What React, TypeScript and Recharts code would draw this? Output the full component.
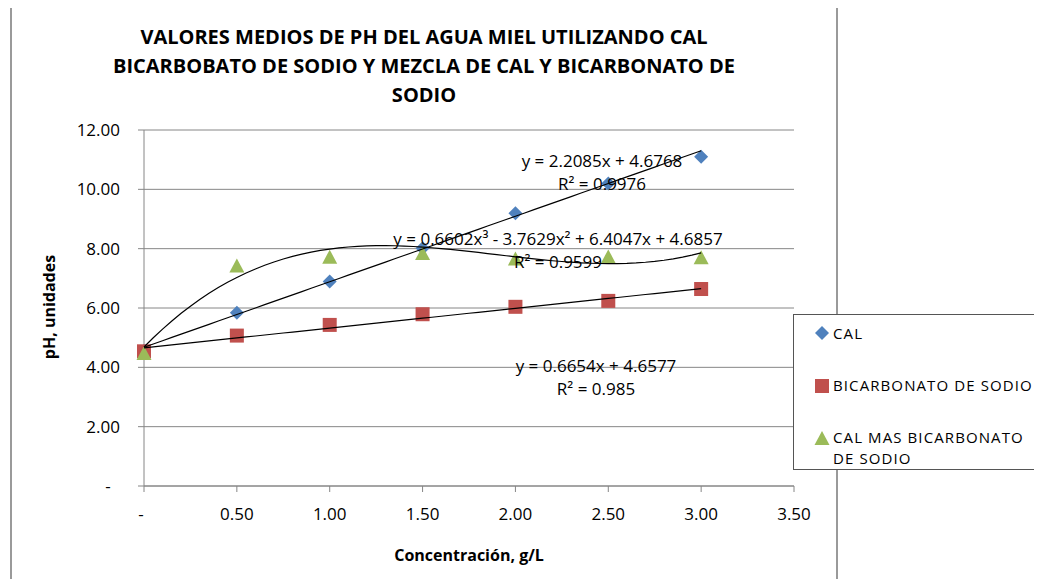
import { ScatterChart, Scatter, XAxis, YAxis, CartesianGrid } from "recharts"

// concentration (g/L) and mean pH per treatment
const concentracion = [0, 0.5, 1, 1.5, 2, 2.5, 3]
const phCal = [4.55, 5.84, 6.89, 8.01, 9.19, 10.2, 11.1]
const phBicarbonato = [4.54, 5.07, 5.43, 5.79, 6.04, 6.24, 6.64]
const phCalBicarbonato = [4.48, 7.43, 7.73, 7.85, 7.67, 7.74, 7.71]

const xTicks = [0, 0.5, 1, 1.5, 2, 2.5, 3, 3.5]
const yTicks = [0, 2, 4, 6, 8, 10, 12]

// trendline coefficients, highest power first
const coefCal = [2.2085, 4.6768]
const coefBicarbonato = [0.6654, 4.6577]
const coefCalBicarbonato = [0.6602, -3.7629, 6.4047, 4.6857]

const AZUL = "#4F81BD"
const ROJO = "#C0504D"
const VERDE = "#9BBB59"
const GRIS = "#868686"
const FONT = "'Open Sans', 'DejaVu Sans', sans-serif"

const toPoints = (ys: number[]) => concentracion.map((x, i) => ({ x, y: ys[i] }))
const evalPoly = (c: number[], x: number) => c.reduce((acc, k) => acc * x + k, 0)
const trend = (c: number[]) =>
  Array.from({ length: 61 }, (_, i) => {
    const x = i * 0.05
    return { x, y: evalPoly(c, x) }
  })

const fmt = (v: number) => (v === 0 ? "-" : v.toFixed(2))

function Diamond({ cx, cy }: any) {
  const r = 7
  return <path d={`M${cx},${cy - r}L${cx + r},${cy}L${cx},${cy + r}L${cx - r},${cy}Z`} fill={AZUL} />
}

function Square({ cx, cy }: any) {
  return <rect x={cx - 7} y={cy - 7} width={14} height={14} fill={ROJO} />
}

function Triangle({ cx, cy }: any) {
  return <path d={`M${cx},${cy - 7}L${cx + 7.5},${cy + 7}L${cx - 7.5},${cy + 7}Z`} fill={VERDE} />
}

function YTick({ x, y, payload }: any) {
  const v = payload.value
  if (v === 0) {
    return (
      <text x={x - 12} y={y} dy="0.35em" textAnchor="middle" fontFamily={FONT} fontSize={17} fill="#000">
        -
      </text>
    )
  }
  return (
    <text x={x} y={y} dy="0.35em" textAnchor="end" fontFamily={FONT} fontSize={17} fill="#000">
      {fmt(v)}
    </text>
  )
}

function XTick({ x, y, payload }: any) {
  const v = payload.value
  return (
    <text x={v === 0 ? x - 3 : x} y={y + 28} textAnchor="middle" fontFamily={FONT} fontSize={17} fill="#000">
      {fmt(v)}
    </text>
  )
}

const eqStyle = (cx: number, top: number) => ({
  position: "absolute" as const,
  left: cx - 250,
  width: 500,
  top,
  textAlign: "center" as const,
  fontFamily: FONT,
  fontSize: 17,
  lineHeight: "23px",
  color: "#000",
  pointerEvents: "none" as const,
})

const legendText = {
  position: "absolute" as const,
  left: 833,
  fontFamily: FONT,
  fontSize: 15,
  letterSpacing: 1.1,
  lineHeight: "21px",
  color: "#000",
}

export default function App() {
  return (
    <div style={{ position: "relative", width: 1042, height: 587, margin: -8, background: "#fff", overflow: "hidden" }}>
      <div
        style={{
          position: "absolute",
          left: 10,
          top: 6,
          width: 824,
          height: 620,
          border: "2px solid #9a9a9a",
        }}
      />
      <div
        style={{
          position: "absolute",
          left: 10,
          width: 828,
          top: 22,
          textAlign: "center",
          fontFamily: FONT,
          fontWeight: 700,
          fontSize: 20,
          lineHeight: "29px",
          color: "#000",
        }}
      >
        VALORES MEDIOS DE PH DEL AGUA MIEL UTILIZANDO CAL
        <br />
        BICARBOBATO DE SODIO Y MEZCLA DE CAL Y BICARBONATO DE
        <br />
        SODIO
      </div>

      <div style={{ position: "absolute", left: 0, top: 0 }}>
        <ScatterChart width={1042} height={587} margin={{ top: 130, right: 248, bottom: 41, left: 0 }}>
          <CartesianGrid vertical={false} stroke={GRIS} strokeWidth={1} />
          <XAxis
            type="number"
            dataKey="x"
            domain={[0, 3.5]}
            ticks={xTicks}
            height={60}
            tickSize={6}
            tickMargin={0}
            stroke={GRIS}
            tick={<XTick />}
            interval={0}
          />
          <YAxis
            type="number"
            dataKey="y"
            domain={[0, 12]}
            ticks={yTicks}
            width={144}
            tickSize={6}
            tickMargin={18}
            stroke={GRIS}
            tick={<YTick />}
            interval={0}
          />
          <Scatter data={toPoints(phCal)} shape={<Diamond />} isAnimationActive={false} />
          <Scatter data={toPoints(phBicarbonato)} shape={<Square />} isAnimationActive={false} />
          <Scatter data={toPoints(phCalBicarbonato)} shape={<Triangle />} isAnimationActive={false} />
          <Scatter data={trend(coefCal)} line={{ stroke: "#000", strokeWidth: 1.2 }} shape={() => <g />} isAnimationActive={false} />
          <Scatter data={trend(coefBicarbonato)} line={{ stroke: "#000", strokeWidth: 1.2 }} shape={() => <g />} isAnimationActive={false} />
          <Scatter data={trend(coefCalBicarbonato)} line={{ stroke: "#000", strokeWidth: 1.2 }} shape={() => <g />} isAnimationActive={false} />
        </ScatterChart>
      </div>

      {/* trendline equations */}
      <div style={eqStyle(602, 149)}>
        y = 2.2085x + 4.6768
        <br />
        R² = 0.9976
      </div>
      <div style={eqStyle(558, 227)}>
        y = 0.6602x³ - 3.7629x² + 6.4047x + 4.6857
        <br />
        R² = 0.9599
      </div>
      <div style={eqStyle(596, 354)}>
        y = 0.6654x + 4.6577
        <br />
        R² = 0.985
      </div>

      {/* axis titles */}
      <div
        style={{
          position: "absolute",
          left: 49 - 100,
          top: 307 - 12,
          width: 200,
          lineHeight: "24px",
          textAlign: "center",
          transform: "rotate(-90deg)",
          fontFamily: FONT,
          fontWeight: 700,
          fontSize: 16,
          color: "#000",
        }}
      >
        pH, unidades
      </div>
      <div
        style={{
          position: "absolute",
          left: 469 - 150,
          top: 555 - 12,
          width: 300,
          lineHeight: "24px",
          textAlign: "center",
          fontFamily: FONT,
          fontWeight: 700,
          fontSize: 16,
          color: "#000",
        }}
      >
        Concentración, g/L
      </div>

      {/* legend */}
      <div
        style={{
          position: "absolute",
          left: 793,
          top: 314,
          width: 245,
          height: 154,
          border: "1px solid #555",
          background: "#fff",
        }}
      />
      <svg style={{ position: "absolute", left: 0, top: 0 }} width={1042} height={587} pointerEvents="none">
        <Diamond cx={822} cy={333} />
        <Square cx={822} cy={386} />
        <Triangle cx={822} cy={438} />
      </svg>
      <div style={{ ...legendText, top: 323 }}>CAL</div>
      <div style={{ ...legendText, top: 375 }}>BICARBONATO DE SODIO</div>
      <div style={{ ...legendText, top: 427 }}>
        CAL MAS BICARBONATO
        <br />
        DE SODIO
      </div>
    </div>
  )
}
